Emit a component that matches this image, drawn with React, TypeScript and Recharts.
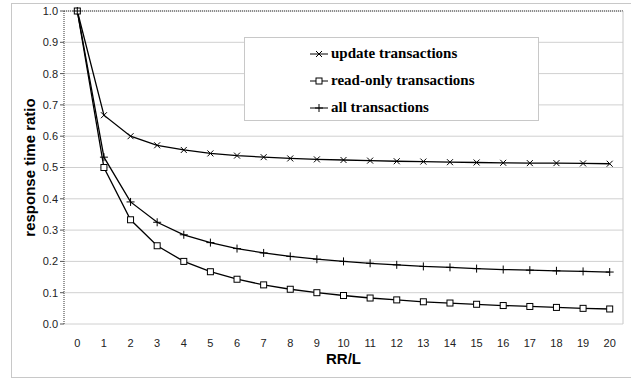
import { LineChart, Line, XAxis, YAxis, CartesianGrid, ReferenceLine } from 'recharts';

const rrl = [0, 1, 2, 3, 4, 5, 6, 7, 8, 9, 10, 11, 12, 13, 14, 15, 16, 17, 18, 19, 20];
const updateTx = [1.0, 0.667, 0.6, 0.571, 0.556, 0.545, 0.538, 0.533, 0.529, 0.526, 0.524, 0.522, 0.52, 0.519, 0.517, 0.516, 0.515, 0.514, 0.514, 0.513, 0.512];
const readOnlyTx = [1.0, 0.5, 0.333, 0.25, 0.2, 0.167, 0.143, 0.125, 0.111, 0.1, 0.091, 0.083, 0.077, 0.071, 0.067, 0.063, 0.059, 0.056, 0.053, 0.05, 0.048];
const allTx = [1.0, 0.533, 0.39, 0.325, 0.285, 0.26, 0.241, 0.227, 0.216, 0.207, 0.2, 0.194, 0.189, 0.184, 0.181, 0.177, 0.174, 0.172, 0.17, 0.168, 0.166];
const yTicks = [0, 0.1, 0.2, 0.3, 0.4, 0.5, 0.6, 0.7, 0.8, 0.9, 1.0];
const boundaryTicks = [-0.5, ...rrl.map(v => v + 0.5)];

const data = rrl.map((x, i) => ({ x, update: updateTx[i], readOnly: readOnlyTx[i], all: allTx[i] }));

const SERIES = [
  { key: 'update', name: 'update transactions', marker: 'cross' },
  { key: 'readOnly', name: 'read-only transactions', marker: 'square' },
  { key: 'all', name: 'all transactions', marker: 'plus' },
];

const Marker = ({ cx, cy, type }: { cx: number; cy: number; type: string }) => {
  if (type === 'square') {
    return <rect x={cx - 3} y={cy - 3} width={6} height={6} fill="#fff" stroke="#000" strokeWidth={1} />;
  }
  if (type === 'cross') {
    return (
      <path d={`M${cx - 3},${cy - 3}L${cx + 3},${cy + 3}M${cx - 3},${cy + 3}L${cx + 3},${cy - 3}`} stroke="#000" strokeWidth={1} />
    );
  }
  return <path d={`M${cx - 4},${cy}L${cx + 4},${cy}M${cx},${cy - 4}L${cx},${cy + 4}`} stroke="#000" strokeWidth={1} />;
};

const makeDot = (type: string) => (props: any) => {
  const { cx, cy, index } = props;
  if (cx == null || cy == null) return <g key={index} />;
  return <Marker key={index} cx={cx} cy={cy} type={type} />;
};

const LegendBox = () => (
  <div
    style={{
      position: 'absolute',
      left: 244,
      top: 37,
      width: 295,
      height: 84,
      border: '1px solid #c8c8c8',
      background: '#fff',
      boxSizing: 'border-box',
      paddingTop: 2,
    }}
  >
    {SERIES.map(s => (
      <div key={s.key} style={{ display: 'flex', alignItems: 'center', height: 27, paddingLeft: 65 }}>
        <svg width={18} height={12} style={{ marginRight: 3 }}>
          <line x1={0} y1={6} x2={18} y2={6} stroke="#000" strokeWidth={1} />
          <Marker cx={9} cy={6} type={s.marker} />
        </svg>
        <span style={{ fontFamily: '"Liberation Serif", "DejaVu Serif", serif', fontWeight: 'bold', fontSize: 15, color: '#000' }}>
          {s.name}
        </span>
      </div>
    ))}
  </div>
);

const App = () => {
  return (
    <div style={{ position: 'absolute', left: 0, top: 0, width: 631, height: 380, background: '#fff', overflow: 'hidden' }}>
      <div
        style={{
          position: 'absolute',
          left: 11,
          top: 3,
          width: 640,
          height: 373,
          border: '1px solid #c8c8c8',
        }}
      />
      <div style={{ position: 'absolute', left: 0, top: 0 }}>
        <LineChart
          width={631}
          height={380}
          data={data}
          margin={{ top: 11, right: 8, bottom: 6, left: 0 }}
          style={{ fontFamily: '"Liberation Sans", Arial, sans-serif' }}
        >
          <CartesianGrid vertical={false} stroke="#d0d0d0" strokeWidth={1} />
          <XAxis
            xAxisId="bounds"
            type="number"
            dataKey="x"
            domain={[-0.5, 20.5]}
            ticks={boundaryTicks}
            height={0}
            tick={() => <g />}
            tickSize={4}
            tickLine={{ stroke: '#555' }}
            axisLine={{ stroke: '#333', strokeDasharray: '1 1' }}
            allowDataOverflow
          />
          <XAxis
            xAxisId="main"
            type="number"
            dataKey="x"
            domain={[-0.5, 20.5]}
            ticks={rrl}
            interval={0}
            tickLine={false}
            axisLine={false}
            tick={{ fill: '#222', fontSize: 11 }}
            tickMargin={9}
            height={50}
            label={{ value: 'RR/L', position: 'insideBottom', offset: 10, fill: '#000', fontSize: 15, fontWeight: 'bold' }}
          />
          <YAxis
            domain={[0, 1]}
            ticks={yTicks}
            width={64}
            interval={0}
            tickFormatter={(v: number) => v.toFixed(1)}
            tick={{ fill: '#222', fontSize: 11 }}
            tickSize={4}
            tickLine={{ stroke: '#555' }}
            axisLine={{ stroke: '#333', strokeDasharray: '1 1' }}
            label={{
              value: 'response time ratio',
              angle: -90,
              position: 'insideLeft',
              offset: 30,
              style: { textAnchor: 'middle' },
              fill: '#000',
              fontSize: 15,
              fontWeight: 'bold',
            }}
          />
          <ReferenceLine y={1} xAxisId="main" stroke="#333" strokeDasharray="1 1" />
          <ReferenceLine x={20.5} xAxisId="main" stroke="#c8c8c8" />
          {SERIES.map(s => (
            <Line
              key={s.key}
              xAxisId="main"
              type="linear"
              dataKey={s.key}
              name={s.name}
              stroke="#000"
              strokeWidth={1.3}
              dot={makeDot(s.marker)}
              activeDot={false}
              isAnimationActive={false}
            />
          ))}
        </LineChart>
      </div>
      <LegendBox />
    </div>
  );
};

export default App;
